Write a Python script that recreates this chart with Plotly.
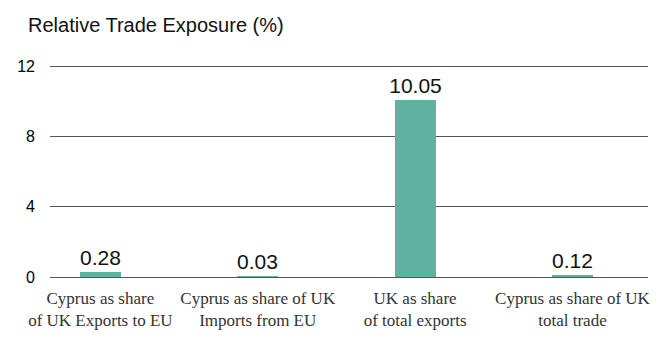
import plotly.graph_objects as go

categories = [
    "Cyprus as share<br>of UK Exports to EU",
    "Cyprus as share of UK<br>Imports from EU",
    "UK as share<br>of total exports",
    "Cyprus as share of UK<br>total trade",
]
values = [0.28, 0.03, 10.05, 0.12]
value_labels = ["0.28", "0.03", "10.05", "0.12"]
y_ticks = [0, 4, 8, 12]

W, H = 661, 347
L, R, T, B = 50, 11, 64, 70

fig = go.Figure()
fig.add_trace(go.Bar(
    x=categories, y=values,
    text=value_labels, textposition="outside",
    textfont=dict(family="Liberation Sans, Arial, sans-serif", size=21, color="#111111"),
    cliponaxis=False,
    width=0.26,
    marker=dict(color="#5fb2a1", line=dict(width=0)),
    hoverinfo="skip",
))

fig.update_layout(
    width=W, height=H,
    margin=dict(l=L, r=R, t=T, b=B),
    paper_bgcolor="white", plot_bgcolor="white",
    showlegend=False,
    bargap=0,
    uniformtext=dict(minsize=21, mode="show"),
)
fig.update_xaxes(
    type="category",
    range=[-0.32, 3.48],
    showgrid=False, zeroline=False, showline=False,
    ticks="", ticklabelstandoff=9,
    tickfont=dict(family="Liberation Serif, DejaVu Serif, serif", size=17, color="#333333"),
)
fig.update_yaxes(
    range=[0, 12.12],
    tickvals=y_ticks, ticktext=[str(v) for v in y_ticks],
    showgrid=True, gridcolor="#555555", gridwidth=1.4,
    zeroline=True, zerolinecolor="#555555", zerolinewidth=1.4,
    showline=False, ticks="", ticklabelstandoff=14,
    tickfont=dict(family="Liberation Sans, Arial, sans-serif", size=16, color="#000000"),
)
fig.add_annotation(
    text="Relative Trade Exposure (%)",
    xref="paper", yref="paper",
    x=(26 - L) / (W - L - R), y=1 + (T - 25) / (H - T - B),
    xanchor="left", yanchor="middle", showarrow=False,
    font=dict(family="Liberation Sans, Arial, sans-serif", size=20, color="#111111"),
)

fig.write_html("out.html")
